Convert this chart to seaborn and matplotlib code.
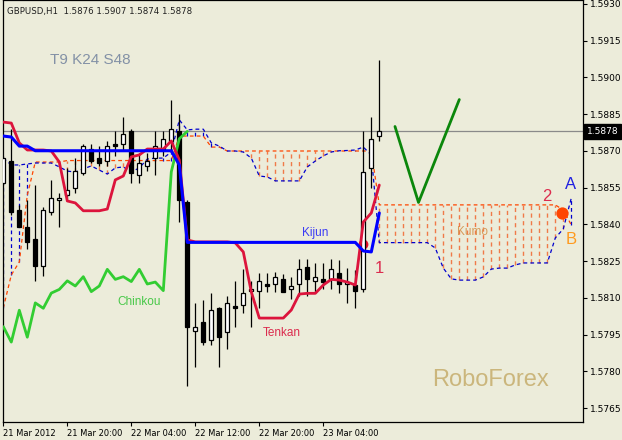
import numpy as np
import pandas as pd
import matplotlib
matplotlib.use("Agg")
import matplotlib.pyplot as plt
import seaborn as sns

# ---------------- data (GBPUSD H1, bar 0 = 21 Mar 2012 12:00) ----------------
opens = [1.5857, 1.5866, 1.5846, 1.5839, 1.5834, 1.5823, 1.5845, 1.5850, 1.5852, 1.5855,
         1.5861, 1.5871, 1.5867, 1.5866, 1.5873, 1.5873, 1.5878, 1.5860, 1.5864, 1.5867,
         1.5871, 1.5874, 1.5878, 1.5849, 1.57965, 1.5800, 1.5793, 1.5806, 1.5796, 1.58067,
         1.5807, 1.58129, 1.5813, 1.58157, 1.58157, 1.58176, 1.58135, 1.58157, 1.58225, 1.58169,
         1.58176, 1.58176, 1.58203, 1.58157, 1.58153, 1.58135, 1.5863, 1.5876]
highs = [1.5868, 1.5879, 1.5848, 1.5850, 1.5856, 1.5847, 1.5858, 1.5853, 1.5863, 1.5867,
         1.5873, 1.5873, 1.5872, 1.5874, 1.5878, 1.5884, 1.5879, 1.5869, 1.5869, 1.5878,
         1.5878, 1.5891, 1.5885, 1.5850, 1.5808, 1.5809, 1.5812, 1.58065, 1.5811, 1.5817,
         1.5822, 1.5817, 1.5820, 1.5820, 1.58205, 1.58198, 1.58187, 1.58258, 1.58258, 1.58242,
         1.58242, 1.58258, 1.58255, 1.58222, 1.58214, 1.5878, 1.5884, 1.5907]
lows = [1.5856, 1.5844, 1.5839, 1.5830, 1.5817, 1.5819, 1.5844, 1.5839, 1.5851, 1.5853,
        1.5860, 1.5865, 1.5864, 1.5864, 1.5868, 1.5870, 1.5857, 1.5857, 1.5862, 1.5860,
        1.5868, 1.5870, 1.5841, 1.5774, 1.5782, 1.5791, 1.5791, 1.5782, 1.5789, 1.5798,
        1.5804, 1.5798, 1.5806, 1.58126, 1.58126, 1.58124, 1.58095, 1.58108, 1.58108, 1.58126,
        1.58135, 1.58135, 1.58119, 1.58078, 1.58058, 1.58126, 1.5855, 1.5874]
closes = [1.5867, 1.5845, 1.5839, 1.5833, 1.5823, 1.5846, 1.5851, 1.5851, 1.5854, 1.5862,
          1.5872, 1.5866, 1.5865, 1.5872, 1.5872, 1.5877, 1.5861, 1.5865, 1.5866, 1.5872,
          1.5875, 1.5879, 1.5850, 1.5798, 1.57983, 1.5792, 1.5805, 1.5794, 1.5808, 1.58058,
          1.5812, 1.58135, 1.5817, 1.58149, 1.58187, 1.58126, 1.58149, 1.58217, 1.58176, 1.58187,
          1.58167, 1.58217, 1.58157, 1.58165, 1.58130, 1.58615, 1.5875, 1.5878]

tenkan = [1.58818, 1.58814, 1.58733, 1.58704, 1.58704, 1.58704, 1.58700, 1.58655, 1.58496, 1.58488,
          1.58456, 1.58456, 1.58456, 1.58463, 1.58582, 1.58598, 1.58676, 1.58684, 1.58708, 1.58708,
          1.58708, 1.58741, 1.58663, 1.58337, 1.58329, 1.58329, 1.58329, 1.58329, 1.58329, 1.58325,
          1.58288, 1.58125, 1.58018, 1.58018, 1.58018, 1.58018, 1.58051, 1.58116, 1.58119, 1.58119,
          1.58153, 1.58176, 1.58173, 1.58165, 1.58153, 1.58410, 1.58447, 1.58561]
kijun = [1.58761, 1.58757, 1.58720, 1.58720, 1.58701, 1.58701, 1.58701, 1.58701, 1.58701, 1.58701,
         1.58701, 1.58701, 1.58701, 1.58701, 1.58701, 1.58701, 1.58701, 1.58701, 1.58701, 1.58701,
         1.58701, 1.58701, 1.58643, 1.58327, 1.58327, 1.58327, 1.58327, 1.58327, 1.58327, 1.58327,
         1.58327, 1.58327, 1.58327, 1.58327, 1.58327, 1.58327, 1.58327, 1.58327, 1.58327, 1.58327,
         1.58327, 1.58327, 1.58327, 1.58327, 1.58327, 1.58292, 1.58288, 1.58447]
senkou_a = [1.58671, 1.58643, 1.58643, 1.58647, 1.58651, 1.58651, 1.58651, 1.58635, 1.58618, 1.58614,
            1.58627, 1.58639, 1.58622, 1.58606, 1.58631, 1.58635, 1.58614, 1.58631, 1.58667, 1.58671,
            1.58671, 1.58696, 1.58827, 1.58786, 1.58789, 1.58789, 1.58733, 1.58720, 1.58700, 1.58700,
            1.58696, 1.58671, 1.58598, 1.58594, 1.58578, 1.58578, 1.58578, 1.58578, 1.58635, 1.58659,
            1.58680, 1.58696, 1.58701, 1.58702, 1.58704, 1.58716, 1.58684, 1.58326, 1.58326, 1.58326,
            1.58326, 1.58326, 1.58326, 1.58326, 1.58304, 1.58222, 1.58178, 1.58173, 1.58173, 1.58173,
            1.58186, 1.58218, 1.58222, 1.58222, 1.58235, 1.58243, 1.58243, 1.58243, 1.58243, 1.58345,
            1.58382, 1.58508]
senkou_b = [1.58059, 1.58194, 1.58247, 1.58520, 1.58655, 1.58655, 1.58655, 1.58655, 1.58661, 1.58661,
            1.58661, 1.58661, 1.58661, 1.58661, 1.58661, 1.58661, 1.58661, 1.58661, 1.58661, 1.58661,
            1.58661, 1.58661, 1.58761, 1.58761, 1.58761, 1.58761, 1.58716, 1.58716, 1.58700, 1.58700,
            1.58700, 1.58700, 1.58700, 1.58700, 1.58700, 1.58700, 1.58700, 1.58700, 1.58700, 1.58700,
            1.58700, 1.58700, 1.58700, 1.58700, 1.58700, 1.58700, 1.58700, 1.58480, 1.58480, 1.58480,
            1.58480, 1.58480, 1.58480, 1.58480, 1.58480, 1.58480, 1.58480, 1.58480, 1.58480, 1.58480,
            1.58480, 1.58480, 1.58480, 1.58480, 1.58480, 1.58480, 1.58480, 1.58480, 1.58480, 1.58480,
            1.58459, 1.58398]
chinkou_shift = 24

# hand-drawn analysis marks
v_line_x = [48.96, 51.9, 57.0]
v_line_y = [1.5880, 1.5849, 1.5891]
cross_dot_x = [44.9]
cross_dot_y = [1.5832]
target_dot_x = [69.8]
target_dot_y = [1.58446]

x_tick_bars = [0, 8, 16, 24, 32, 40]
x_tick_labels = ["21 Mar 2012", "21 Mar 20:00", "22 Mar 04:00",
                 "22 Mar 12:00", "22 Mar 20:00", "23 Mar 04:00"]
y_ticks = [1.5930, 1.5915, 1.5900, 1.5885, 1.5870, 1.5855,
           1.5840, 1.5825, 1.5810, 1.5795, 1.5780, 1.5765]
header = "GBPUSD,H1  1.5876 1.5907 1.5874 1.5878"

# ---------------- style ----------------
BG = "#ECECDA"
C_TENKAN = "#DC143C"
C_KIJUN = "#0000FF"
C_CHINKOU = "#32CD32"
C_SPAN_A = "#0000CD"
C_SPAN_B = "#FF4500"
C_HATCH = "#F07A48"

sns.set_theme(style="white", rc={"axes.facecolor": BG, "figure.facecolor": BG,
                                 "savefig.facecolor": BG})
plt.rcParams["font.family"] = ["DejaVu Sans"]

fig = plt.figure(figsize=(6.22, 4.40), dpi=100)
ax = fig.add_axes([0.00402, 0.0416, 0.9328, 0.9573])

o = np.array(opens); h = np.array(highs); l = np.array(lows); c = np.array(closes)
bars = np.arange(len(o))
sa = np.array(senkou_a); sb = np.array(senkou_b)
span_bars = np.arange(len(sa))

# Kumo hatch
dash = (0, (3, 2.5))
dn = sa < sb
ax.vlines(span_bars[dn], sa[dn], sb[dn], colors=C_HATCH, linestyles=[dash], linewidth=1.0, zorder=1)
up = sa > sb
ax.vlines(span_bars[up], sb[up], sa[up], colors=C_SPAN_A, linestyles=[dash], linewidth=0.9, zorder=1)

# current price line
ax.axhline(c[-1], color="#8A8A8A", linewidth=0.9, zorder=1.5)

span_df = pd.DataFrame({"bar": span_bars, "A": sa, "B": sb})
sns.lineplot(data=span_df, x="bar", y="B", color=C_SPAN_B, linewidth=0.9, ax=ax, zorder=2)
ax.lines[-1].set_dashes([3, 2.5])
sns.lineplot(data=span_df, x="bar", y="A", color=C_SPAN_A, linewidth=0.9, ax=ax, zorder=2)
ax.lines[-1].set_dashes([3, 2.5])

# cross dot (behind candles)
ax.scatter(cross_dot_x, cross_dot_y, s=50, color="#E8102A", zorder=3.5, linewidths=0)

# candles
ax.vlines(bars, l, h, color="black", linewidth=0.9, zorder=3)
bull = c >= o
ax.bar(bars[bull], np.maximum((c - o)[bull], 0.00002), bottom=o[bull], width=0.52,
       color="white", edgecolor="black", linewidth=0.9, zorder=4)
ax.bar(bars[~bull], (o - c)[~bull], bottom=c[~bull], width=0.52,
       color="black", edgecolor="black", linewidth=0.9, zorder=4)

# Ichimoku lines
line_df = pd.DataFrame({"bar": bars, "tenkan": tenkan, "kijun": kijun})
chinkou_df = pd.DataFrame({"bar": bars[:len(bars) - chinkou_shift],
                           "chinkou": c[chinkou_shift:]})
sns.lineplot(data=chinkou_df, x="bar", y="chinkou", color=C_CHINKOU, linewidth=2.0, ax=ax, zorder=6)
sns.lineplot(data=line_df, x="bar", y="tenkan", color=C_TENKAN, linewidth=2.0, ax=ax, zorder=6)
sns.lineplot(data=line_df, x="bar", y="kijun", color=C_KIJUN, linewidth=2.2, ax=ax, zorder=6.5)

# analysis V
v_df = pd.DataFrame({"x": v_line_x, "y": v_line_y})
sns.lineplot(data=v_df, x="x", y="y", color="#0B870B", linewidth=2.0, ax=ax, zorder=7, sort=False)
ax.scatter(target_dot_x, target_dot_y, s=78, color="#FF4500", zorder=8, linewidths=0)

# axes
ax.set_xlim(-0.1, 72.425)
ax.set_ylim(1.575951, 1.593143)
ax.set_xlabel(""); ax.set_ylabel("")
ax.yaxis.tick_right()
ax.set_yticks(y_ticks)
ax.set_yticklabels([f"{v:.4f}" for v in y_ticks])
ax.set_xticks(x_tick_bars)
ax.set_xticklabels(x_tick_labels, ha="left")
ax.tick_params(axis="y", which="both", direction="out", length=3, width=0.8, pad=2,
               labelsize=6.5, colors="black", right=True, left=False)
ax.tick_params(axis="x", which="both", direction="out", length=3, width=0.8, pad=2,
               labelsize=6.0, colors="black", bottom=True)
for sp in ax.spines.values():
    sp.set_color("black"); sp.set_linewidth(0.9); sp.set_visible(True)

# price tag
ax.text(1.0075, c[-1], f"{c[-1]:.4f}", transform=ax.get_yaxis_transform(), ha="left",
        va="center", color="white", fontsize=6.5, clip_on=False,
        bbox=dict(boxstyle="square,pad=0.3", fc="black", ec="black"))

# texts
ax.text(0.008, 0.974, header, transform=ax.transAxes, ha="left", va="center",
        fontsize=6.2, color="#202020")
LS = ["Liberation Sans", "DejaVu Sans"]
ax.text(5.84, 1.59071, "T9 K24 S48", ha="left", va="center", fontsize=11,
        color="#8391A6", family=LS)
ax.text(37.34, 1.58365, "Kijun", ha="left", va="center", fontsize=8.5, color="#3B3BF5", family=LS)
ax.text(32.4, 1.57957, "Tenkan", ha="left", va="center", fontsize=8.5, color="#DC2C4E", family=LS)
ax.text(14.2, 1.58082, "Chinkou", ha="left", va="center", fontsize=8.5, color="#48C848", family=LS)
ax.text(56.7, 1.58369, "Kumo", ha="left", va="center", fontsize=8.5, color="#D89A5A", family=LS)
ax.text(46.96, 1.58222, "1", ha="center", va="center", fontsize=12, color="#DC2C4E", family=LS)
ax.text(68.0, 1.58514, "2", ha="center", va="center", fontsize=12, color="#DC2C4E", family=LS)
ax.text(70.96, 1.58565, "A", ha="center", va="center", fontsize=12, color="#2020E0", family=LS)
ax.text(70.96, 1.58337, "B", ha="center", va="center", fontsize=12, color="#FF9A1E", family=LS)
ax.text(60.84, 1.57765, "RoboForex", ha="center", va="center", fontsize=17,
        color="#CBB67C", family=LS)

fig.savefig("out.png", dpi=100, facecolor=BG)
